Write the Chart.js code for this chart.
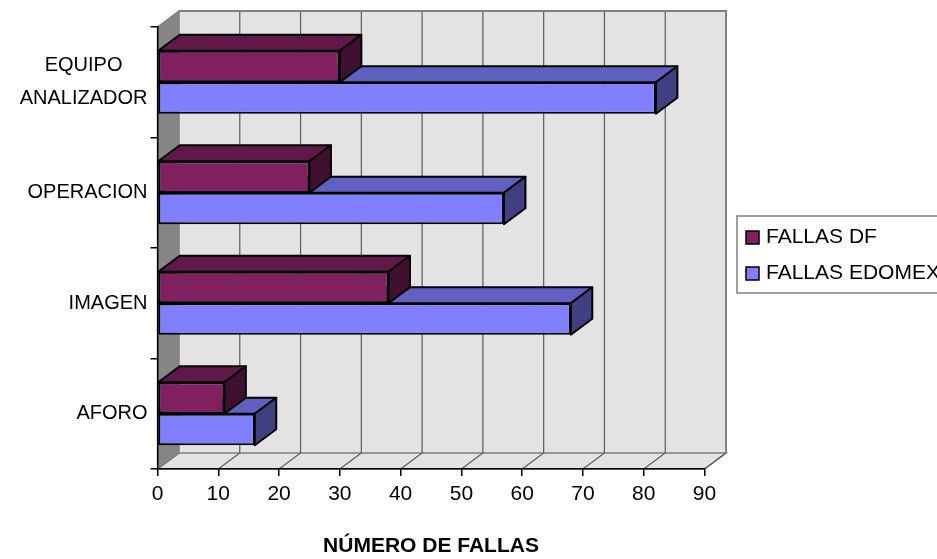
<!DOCTYPE html>
<html lang="es">
<head>
<meta charset="UTF-8">
<title>Número de fallas</title>
<script src="https://cdn.jsdelivr.net/npm/chart.js"></script>
<style>
  body { margin: 0; background: #fff; }
  canvas { display: block; }
</style>
</head>
<body>
<canvas id="grafico" width="937" height="559"></canvas>
<script>
// datos
const categorias = [['EQUIPO', 'ANALIZADOR'], 'OPERACION', 'IMAGEN', 'AFORO'];
const fallasDF = [30, 25, 38, 11];
const fallasEdomex = [82, 57, 68, 16];
const ejeMin = 0;
const ejeMax = 90;
const ejePaso = 10;

// profundidad del efecto 3D
const profX = 21.5;
const profY = 16;
const fuente = '"Liberation Sans", Arial, sans-serif';

Chart.defaults.font.family = fuente;
Chart.defaults.font.size = 21;
Chart.defaults.color = '#000';

// paredes, piso y lineas de division
const fondo3d = {
  id: 'fondo3d',
  beforeDraw(chart) {
    const ctx = chart.ctx;
    const x = chart.scales.x;
    const a = chart.chartArea;
    const L = x.getPixelForValue(ejeMin), R = x.getPixelForValue(ejeMax);
    const T = a.top, B = a.bottom;
    ctx.save();
    // pared del fondo
    ctx.fillStyle = '#e3e3e3';
    ctx.fillRect(L + profX, T - profY, R - L, B - T);
    // piso
    ctx.beginPath();
    ctx.moveTo(L, B); ctx.lineTo(L + profX, B - profY);
    ctx.lineTo(R + profX, B - profY); ctx.lineTo(R, B); ctx.closePath();
    ctx.fill();
    ctx.strokeStyle = '#808080'; ctx.lineWidth = 1.5; ctx.stroke();
    // lineas verticales y diagonales del piso
    ctx.strokeStyle = '#5c5c5c'; ctx.lineWidth = 1.2;
    for (let v = ejeMin + ejePaso; v <= ejeMax; v += ejePaso) {
      const px = x.getPixelForValue(v);
      ctx.beginPath();
      ctx.moveTo(px + profX, T - profY); ctx.lineTo(px + profX, B - profY);
      ctx.lineTo(px, B);
      ctx.stroke();
    }
    // borde de la pared del fondo
    ctx.strokeStyle = '#808080'; ctx.lineWidth = 2;
    ctx.beginPath();
    ctx.moveTo(L + profX, T - profY); ctx.lineTo(R + profX, T - profY);
    ctx.lineTo(R + profX, B - profY);
    ctx.stroke();
    // pared lateral
    ctx.fillStyle = '#858585';
    ctx.beginPath();
    ctx.moveTo(L, T); ctx.lineTo(L + profX, T - profY);
    ctx.lineTo(L + profX, B - profY); ctx.lineTo(L, B); ctx.closePath();
    ctx.fill();
    ctx.strokeStyle = '#808080'; ctx.lineWidth = 1.5; ctx.stroke();
    ctx.restore();
  }
};

// caras superior y lateral de cada barra
const caras3d = {
  id: 'caras3d',
  afterDatasetDraw(chart, args) {
    const ctx = chart.ctx;
    const ds = chart.data.datasets[args.index];
    ctx.save();
    ctx.strokeStyle = '#000';
    ctx.lineWidth = 2;
    ctx.lineJoin = 'round';
    args.meta.data.forEach(el => {
      const p = el.getProps(['x', 'y', 'base', 'height'], true);
      const izq = Math.min(p.base, p.x), der = Math.max(p.base, p.x);
      const arr = p.y - p.height / 2, abj = p.y + p.height / 2;
      ctx.fillStyle = ds.colorSuperior;
      ctx.beginPath();
      ctx.moveTo(izq, arr); ctx.lineTo(izq + profX, arr - profY);
      ctx.lineTo(der + profX, arr - profY); ctx.lineTo(der, arr); ctx.closePath();
      ctx.fill(); ctx.stroke();
      ctx.fillStyle = ds.colorLateral;
      ctx.beginPath();
      ctx.moveTo(der, arr); ctx.lineTo(der + profX, arr - profY);
      ctx.lineTo(der + profX, abj - profY); ctx.lineTo(der, abj); ctx.closePath();
      ctx.fill(); ctx.stroke();
    });
    ctx.restore();
  }
};

// nombres de categorias y leyenda
const textos = {
  id: 'textos',
  afterDraw(chart) {
    const ctx = chart.ctx;
    const y = chart.scales.y;
    ctx.save();
    ctx.font = '20px ' + fuente;
    ctx.fillStyle = '#000';
    ctx.textBaseline = 'middle';
    ctx.textAlign = 'center';
    chart.data.labels.forEach((lab, i) => {
      const lineas = Array.isArray(lab) ? lab : [lab];
      const ancho = Math.max(...lineas.map(l => ctx.measureText(l).width));
      const cx = y.right - 10 - ancho / 2;
      const cy = y.getPixelForValue(i);
      lineas.forEach((l, k) => ctx.fillText(l, cx, cy + (k - (lineas.length - 1) / 2) * 33));
    });

    // leyenda
    const lx = 737, ly = 216;
    ctx.font = '21px ' + fuente;
    ctx.fillStyle = '#fff';
    ctx.fillRect(lx, ly, chart.width - lx + 10, 77);
    ctx.strokeStyle = '#808080';
    ctx.lineWidth = 1.5;
    ctx.strokeRect(lx, ly, chart.width - lx + 10, 77);
    ctx.textAlign = 'left';
    chart.data.datasets.forEach((ds, i) => {
      const cy = ly + 21 + i * 36;
      ctx.fillStyle = ds.backgroundColor;
      ctx.fillRect(746, cy - 6, 13, 13);
      ctx.strokeStyle = '#000';
      ctx.lineWidth = 1.5;
      ctx.strokeRect(746, cy - 6, 13, 13);
      ctx.fillStyle = '#000';
      ctx.fillText(ds.label, 766, cy);
    });
    ctx.restore();
  }
};

new Chart(document.getElementById('grafico'), {
  type: 'bar',
  data: {
    labels: categorias,
    datasets: [
      {
        label: 'FALLAS DF',
        data: fallasDF,
        backgroundColor: '#802060',
        colorSuperior: '#601848',
        colorLateral: '#401030'
      },
      {
        label: 'FALLAS EDOMEX',
        data: fallasEdomex,
        backgroundColor: '#8080ff',
        colorSuperior: '#6060c0',
        colorLateral: '#404080'
      }
    ]
  },
  options: {
    indexAxis: 'y',
    responsive: false,
    animation: false,
    clip: false,
    layout: { padding: { top: 27, right: 232.5, left: 0, bottom: 0 } },
    datasets: {
      bar: {
        borderColor: '#000',
        borderWidth: 2,
        borderSkipped: false,
        categoryPercentage: 0.57,
        barPercentage: 1
      }
    },
    plugins: {
      legend: { display: false },
      tooltip: { enabled: false }
    },
    scales: {
      x: {
        min: ejeMin,
        max: ejeMax,
        afterFit: s => { s.height = 90; },
        ticks: { stepSize: ejePaso, padding: 6, font: { size: 21 } },
        grid: { drawOnChartArea: false, tickLength: 7, color: '#000', lineWidth: 1.5 },
        border: { color: '#000', width: 1.5 },
        title: {
          display: true,
          text: 'NÚMERO DE FALLAS',
          font: { size: 21, weight: 'bold' },
          padding: { top: 0, bottom: 0 }
        }
      },
      y: {
        afterFit: s => { s.width = 157.5; },
        ticks: { display: false },
        grid: { drawOnChartArea: false, tickLength: 7, color: '#000', lineWidth: 1.5 },
        border: { color: '#000', width: 1.5 }
      }
    }
  },
  plugins: [fondo3d, caras3d, textos]
});
</script>
</body>
</html>
